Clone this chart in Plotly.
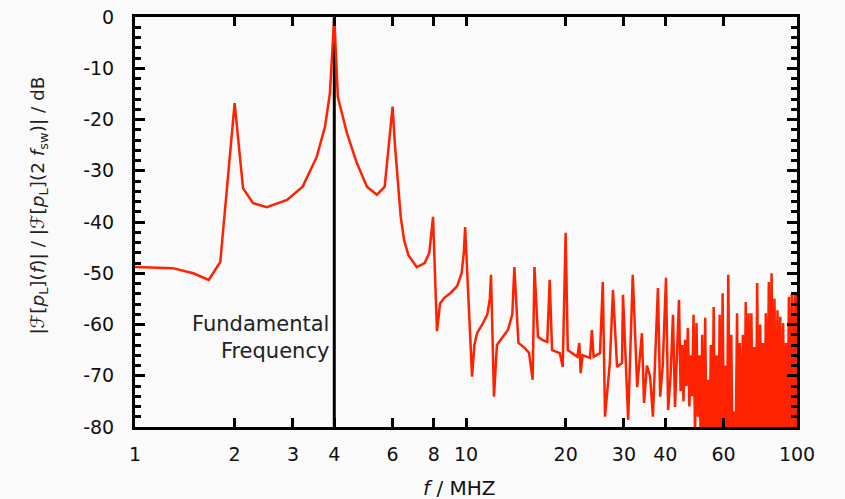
import plotly.graph_objects as go

# ---- data ----
freq_mhz = [
    1.0, 1.3, 1.5, 1.67, 1.81, 2.0, 2.12, 2.27, 2.5, 2.88, 3.21, 3.54, 3.75, 3.88,
    4.0, 4.1, 4.37, 4.68, 5.02, 5.38, 5.68, 6.0, 6.1, 6.2, 6.35, 6.5, 6.7, 7.1, 7.5,
    7.75, 7.95, 8.17, 8.35, 8.6, 9.0, 9.4, 9.7, 9.85, 9.94, 10.43, 10.6, 10.8, 11.2,
    11.6, 11.8, 11.9, 12.15, 12.4, 12.9, 13.4, 13.8, 14.0, 14.4, 15.0, 15.5, 15.9,
    16.1, 16.5, 17.0, 17.6, 17.9, 18.2, 19.2, 19.6, 20.0, 20.3, 21.7, 22.0, 22.2,
    22.5, 23.7, 24.0, 24.3, 25.4, 25.9, 26.3, 27.2, 27.8, 28.6, 29.6, 29.8, 30.6,
    30.9, 31.9, 32.9, 34.0, 34.5, 35.2, 36.0, 36.7, 38.0, 38.6, 39.3, 40.2, 40.8,
    41.5, 42.2, 42.8,
    44.0, 44.5, 45.0, 45.4, 45.9, 46.3, 46.8, 47.3, 47.8, 48.2, 48.7, 49.2, 49.7,
    50.2, 50.7, 51.2, 51.7, 52.2, 52.8, 53.3, 53.8, 54.4, 54.9, 55.5, 56.0, 56.6,
    57.2, 57.8, 58.4, 59.0, 59.6, 60.2, 60.8, 61.4, 62.0, 62.7, 63.3, 63.9, 64.6,
    65.2, 65.9, 66.5, 67.2, 67.9, 68.6, 69.3, 70.0, 70.7, 71.4, 72.1, 72.8, 73.6,
    74.3, 75.1, 75.8, 76.6, 77.4, 78.1, 78.9, 79.7, 80.5, 81.3, 82.2, 83.0, 83.8,
    84.7, 85.5, 86.4, 87.3, 88.1, 89.0, 89.9, 90.8, 91.7, 92.6, 93.6, 94.5, 95.5,
    96.4, 97.4, 98.4, 99.4, 100.0,
]
level_db = [
    -48.8, -49.0, -50.0, -51.3, -47.8, -16.8, -33.4, -36.3, -37.1, -35.7, -33.1, -27.3, -21.4, -14.9,
    0.0, -15.6, -22.7, -28.5, -33.1, -34.7, -33.1, -17.5, -25.0, -31.0, -39.0, -43.5, -46.5, -48.8, -48.0,
    -46.0, -39.0, -61.3, -55.9, -54.8, -53.8, -52.5, -50.0, -46.0, -41.0, -70.2, -64.0, -61.7, -60.0,
    -58.0, -55.0, -50.3, -74.1, -64.0, -62.4, -61.0, -58.0, -48.8, -63.6, -64.5, -65.5, -70.8,
    -48.8, -62.4, -63.0, -63.4, -51.3, -65.0, -65.6, -68.3, -42.1, -65.0, -66.3, -63.6, -69.5,
    -66.0, -66.5, -61.1, -66.3, -65.6, -51.7, -78.0, -67.5, -53.3, -68.3, -67.5, -54.2, -72.8,
    -78.6, -50.3, -72.2, -61.7, -75.3, -68.0, -70.2, -78.0, -52.9, -74.1, -68.0, -50.9, -76.7,
    -70.0, -58.1, -76.1,
    -55.2, -73.0, -64.0, -75.0, -63.0, -72.0, -60.7, -76.0, -66.0, -74.0, -58.1, -82.0, -59.7,
    -78.0, -66.0, -84.0, -62.0, -86.0, -58.7, -86.0, -70.8, -86.0, -64.0, -86.0, -56.6, -86.0,
    -66.0, -86.0, -58.1, -86.0, -53.9, -86.0, -68.0, -86.0, -50.3, -86.0, -62.0, -86.0, -77.0,
    -86.0, -57.8, -86.0, -63.6, -86.0, -62.0, -86.0, -55.6, -86.0, -57.8, -86.0, -57.8, -86.0,
    -64.4, -86.0, -51.9, -86.0, -60.0, -86.0, -63.6, -86.0, -57.8, -86.0, -51.7, -86.0, -50.0,
    -86.0, -55.0, -86.0, -57.2, -86.0, -58.5, -86.0, -59.7, -86.0, -63.6, -86.0, -54.6, -86.0,
    -54.0, -86.0, -53.9, -86.0, -54.0,
]

fundamental_mhz = 4.0
fund_line_db = [-80, 0]

x_tick_vals = [1, 2, 3, 4, 6, 8, 10, 20, 30, 40, 60, 100]
x_tick_text = ["1", "2", "3", "4", "6", "8", "10", "20", "30", "40", "60", "100"]
y_tick_vals = [0, -10, -20, -30, -40, -50, -60, -70, -80]
y_tick_text = ["0", "-10", "-20", "-30", "-40", "-50", "-60", "-70", "-80"]

FONT = "DejaVu Sans, Verdana, sans-serif"
BG = "#fafafa"

fig = go.Figure()
fig.add_trace(go.Scatter(
    x=[fundamental_mhz, fundamental_mhz], y=fund_line_db, mode="lines",
    line=dict(color="black", width=3), hoverinfo="skip", showlegend=False,
))
fig.add_trace(go.Scatter(
    x=freq_mhz, y=level_db, mode="lines",
    line=dict(color="#ff2200", width=2.5), showlegend=False,
))

fig.update_layout(
    width=845, height=499,
    margin=dict(l=135, r=48, t=17, b=72),
    paper_bgcolor=BG, plot_bgcolor=BG,
    font=dict(family=FONT, size=19, color="#111"),
    xaxis=dict(
        type="log", range=[0, 2], automargin=False,
        tickmode="array", tickvals=x_tick_vals, ticktext=x_tick_text,
        ticks="inside", ticklen=9, tickwidth=2.5, tickcolor="black",
        showline=True, linecolor="black", linewidth=3, mirror="allticks",
        showgrid=False, zeroline=False, ticklabelstandoff=8,
    ),
    yaxis=dict(
        range=[-80, 0], automargin=False,
        tickmode="array", tickvals=y_tick_vals, ticktext=y_tick_text,
        ticks="inside", ticklen=10, tickwidth=2.5, tickcolor="black",
        minor=dict(tickmode="linear", tick0=0, dtick=2, ticks="inside",
                   ticklen=6, tickwidth=2.5, tickcolor="black", showgrid=False),
        showline=True, linecolor="black", linewidth=3, mirror="allticks",
        showgrid=False, zeroline=False, ticklabelstandoff=14,
    ),
    annotations=[
        dict(
            text="|ℱ[<i>p</i><sub>L</sub>](<i>f</i>)| / |ℱ[<i>p</i><sub>L</sub>](2 <i>f</i><sub>sw</sub>)| / dB",
            xref="paper", yref="paper", x=-0.145, y=0.54,
            xanchor="center", yanchor="middle", textangle=-90,
            showarrow=False, font=dict(size=18.5, color="#222"),
        ),
        dict(
            text="<i>f</i> / MHZ",
            xref="paper", yref="paper", x=0.49, y=(427 - 488) / 410,
            xanchor="center", yanchor="middle",
            showarrow=False, font=dict(size=20, color="#111"),
        ),
        dict(
            text="Fundamental<br>Frequency",
            xref="x", yref="paper", x=0.592, y=(427 - 337) / 410,
            xanchor="right", yanchor="middle", align="right",
            showarrow=False, font=dict(size=21, color="#222"),
        ),
    ],
)

fig.write_html("out.html")
